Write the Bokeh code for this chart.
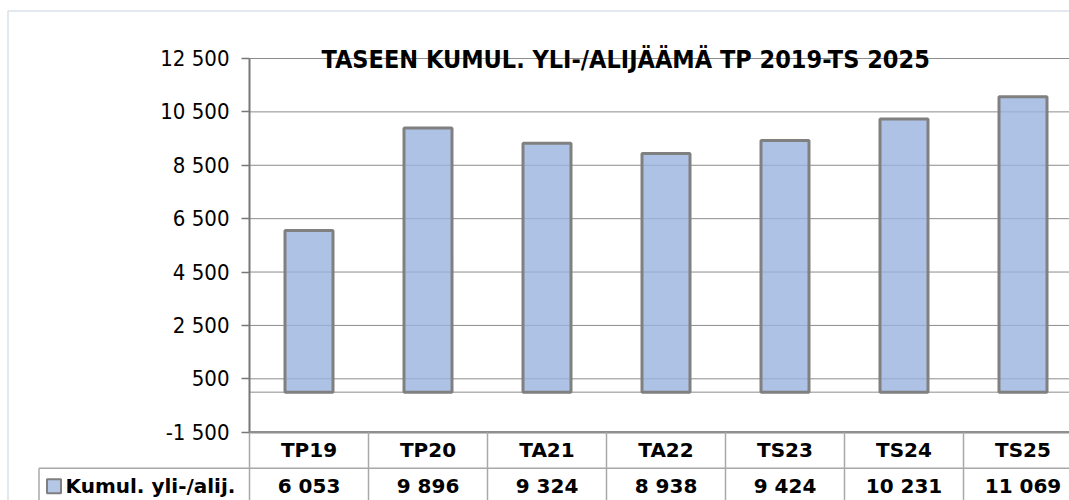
from bokeh.plotting import figure
from bokeh.models import Range1d, FixedTicker
from bokeh.core.properties import value
from bokeh.embed import file_html
from bokeh.resources import INLINE

# ---- data ----
TITLE = "TASEEN KUMUL. YLI-/ALIJÄÄMÄ TP 2019-TS 2025"
CATEGORIES = ["TP19", "TP20", "TA21", "TA22", "TS23", "TS24", "TS25"]
VALUES = [6053, 9896, 9324, 8938, 9424, 10231, 11069]
SERIES_NAME = "Kumul. yli-/alij."
Y_TICKS = [-1500, 500, 2500, 4500, 6500, 8500, 10500, 12500]
BASELINE = 0


def fmt(v):
    return f"{v:,}".replace(",", " ")


# ---- layout constants (page pixels) ----
W, H = 1069, 500
COL_PX = 119.0        # width of one category column
X0_PX = 249.0         # left edge of plot area (value axis)
Y_TOP_PX = 58.0       # position of the top tick
Y_BOT_PX = 431.7      # position of the bottom tick (table top)
ROW_PX = 36.0         # data-table row height
LABEL_CELL_PX = 38.5  # left border of the row-label cell

FONT = "DejaVu Sans"
NARROW_FONT = "DejaVu Sans Condensed"
GRID = "#8c8c8c"
AXIS = "#777777"
TABLE_LINE = "#a8a8a8"
FRAME = "#d8e0e9"

UPP = (Y_TICKS[-1] - Y_TICKS[0]) / (Y_BOT_PX - Y_TOP_PX)


def x_at(px):
    return (px - X0_PX) / COL_PX


def y_at(py):
    return Y_TICKS[-1] - (py - Y_TOP_PX) * UPP


def t_at(py):
    return -(py - Y_BOT_PX) / ROW_PX


n = len(CATEGORIES)
xs = [i + 0.5 for i in range(n)]

p = figure(width=W, height=H,
           x_range=Range1d(x_at(0), x_at(W)),
           y_range=Range1d(y_at(H), y_at(0)),
           output_backend="svg", toolbar_location=None,
           x_axis_location=None, y_axis_location="left")
p.min_border = 0
p.min_border_left = 0
p.min_border_right = 0
p.min_border_top = 0
p.min_border_bottom = 0
p.outline_line_color = None
p.grid.visible = False
p.extra_y_ranges = {"table": Range1d(t_at(H), t_at(0))}

# ---- outer chart-area frame ----
p.segment(x0=[x_at(7.5), x_at(7.5)], y0=[y_at(10.5), y_at(10.5)],
          x1=[x_at(W + 5), x_at(7.5)], y1=[y_at(10.5), y_at(H + 5)],
          line_color=FRAME, line_width=1.5)

# ---- value axis ----
ax = p.yaxis[0]
ax.fixed_location = 0
ax.ticker = FixedTicker(ticks=Y_TICKS)
ax.major_label_overrides = {t: fmt(t) for t in Y_TICKS}
ax.minor_tick_line_color = None
ax.major_tick_out = 8
ax.major_tick_in = 0
ax.axis_line_color = None
ax.major_tick_line_color = AXIS
ax.major_tick_line_width = 1.5
ax.major_label_text_font = NARROW_FONT
ax.major_label_text_font_size = "22px"
ax.major_label_text_color = "black"
ax.major_label_standoff = 12

# gridlines across the plot area
grid_ticks = Y_TICKS[1:]
p.segment(x0=[0] * len(grid_ticks), y0=grid_ticks,
          x1=[n] * len(grid_ticks), y1=grid_ticks,
          line_color=GRID, line_width=1)
# category axis at the baseline
p.segment(x0=[0], y0=[BASELINE], x1=[n], y1=[BASELINE],
          line_color=GRID, line_width=1)

# bars
p.vbar(x=xs, top=VALUES, bottom=BASELINE, width=48 / COL_PX,
       fill_color="#9ab3df", fill_alpha=0.8,
       line_color="#808080", line_width=3)

# value-axis line and table top line
p.segment(x0=[0], y0=[Y_TICKS[0]], x1=[0], y1=[Y_TICKS[-1]],
          line_color=AXIS, line_width=2)
p.segment(x0=[0], y0=[Y_TICKS[0]], x1=[n], y1=[Y_TICKS[0]],
          line_color="#8f8f8f", line_width=2.5)

# ---- title ----
p.text(x=[x_at(321)], y=[y_at(59)], text=[TITLE],
       text_align="left", text_baseline="alphabetic",
       text_font=value(NARROW_FONT), text_font_style="bold",
       text_font_size="25px", text_color="black")

# ---- data table ----
label_left = x_at(LABEL_CELL_PX)
seps = list(range(n + 1))
p.segment(x0=seps, y0=[-3] * len(seps), x1=seps, y1=[0] * len(seps),
          line_color=TABLE_LINE, line_width=1.5, y_range_name="table")
p.segment(x0=[label_left], y0=[-1], x1=[n], y1=[-1],
          line_color=TABLE_LINE, line_width=1.5, y_range_name="table")
p.segment(x0=[label_left], y0=[-1], x1=[label_left], y1=[-3],
          line_color=TABLE_LINE, line_width=1.5, y_range_name="table")

p.text(x=xs, y=[-0.5] * n, text=CATEGORIES, y_range_name="table",
       text_align="center", text_baseline="middle",
       text_font=value(FONT), text_font_style="bold",
       text_font_size="20px", text_color="black")
p.text(x=xs, y=[-1.5] * n, text=[fmt(v) for v in VALUES],
       y_range_name="table",
       text_align="center", text_baseline="middle",
       text_font=value(FONT), text_font_style="bold",
       text_font_size="20px", text_color="black")

p.rect(x=[x_at(53.5)], y=[-1.5], width=14, height=14,
       width_units="screen", height_units="screen", y_range_name="table",
       fill_color="#b4c7e7", line_color="#7f7f7f", line_width=2)
p.text(x=[x_at(65)], y=[-1.5], text=[SERIES_NAME], y_range_name="table",
       text_align="left", text_baseline="middle",
       text_font=value(FONT), text_font_style="bold",
       text_font_size="20px", text_color="black")

open("out.html", "w").write(file_html(p, INLINE))
